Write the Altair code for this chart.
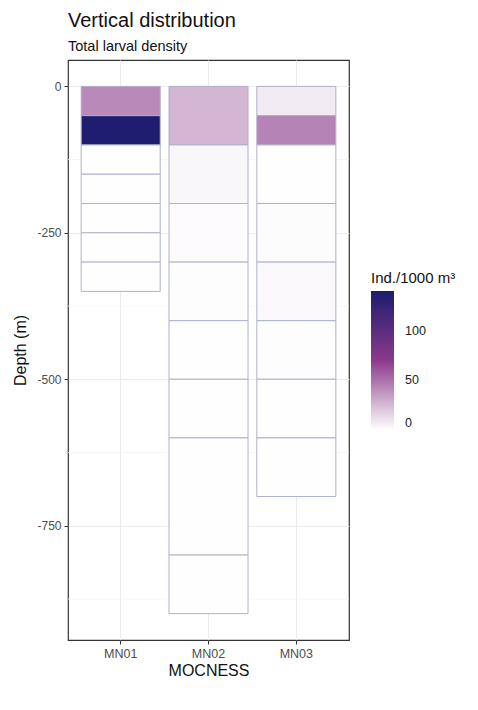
import altair as alt
import pandas as pd

# ---- data ----
net = ["MN01"] * 7 + ["MN02"] * 8 + ["MN03"] * 8
depth_top = [0, 50, 100, 150, 200, 250, 300,
             0, 100, 200, 300, 400, 500, 600, 800,
             0, 50, 100, 200, 300, 400, 500, 600]
depth_bottom = [50, 100, 150, 200, 250, 300, 350,
                100, 200, 300, 400, 500, 600, 800, 900,
                50, 100, 200, 300, 400, 500, 600, 700]
density = [42, 138, 0.4, 0.3, 0.3, 0.3, 0.3,
           26, 3, 1.5, 0.8, 0.4, 0.4, 0.3, 0.2,
           7, 44, 0.4, 1.2, 2.5, 0.8, 0.4, 0.3]
minor_grid = [-125, -375, -625, -875]
legend_ticks = [0, 50, 100]
y_ticks = [0, -250, -500, -750]

df = pd.DataFrame({
    "net": net,
    "top": [-d for d in depth_top],
    "bottom": [-d for d in depth_bottom],
    "density": density,
})
grid_df = pd.DataFrame({"top": minor_grid})

FONT = "Liberation Sans"

yscale = alt.Scale(domain=[-945, 45], nice=False, zero=False)
y_axis = alt.Axis(
    values=y_ticks, grid=True, gridColor="#ebebeb",
    gridWidth=1, domain=False, tickColor="#333333", tickSize=4,
    labelFontSize=12, labelColor="#4d4d4d", labelPadding=3,
    labelExpr="datum.value + ''",
    titleFontSize=16, titleFontWeight="normal", titleColor="#111111",
    titlePadding=8, labelFont=FONT, titleFont=FONT, zindex=0,
)

minor = alt.Chart(grid_df).mark_rule(color="#f3f3f3", strokeWidth=0.8).encode(
    y=alt.Y("top:Q", title="Depth (m)", scale=yscale, axis=y_axis)
)

tiles = alt.Chart(df).mark_rect(stroke="#aeb2c8", strokeWidth=1, opacity=1).encode(
    x=alt.X(
        "net:N",
        title="MOCNESS",
        scale=alt.Scale(paddingInner=0.1, paddingOuter=0.15),
        axis=alt.Axis(
            bandPosition=0.5, labelAngle=0, grid=True, gridColor="#ebebeb",
            gridWidth=1, domain=False, tickColor="#333333", tickSize=4,
            labelFontSize=12.5, labelColor="#4d4d4d", labelPadding=3,
            titleFontSize=16, titleFontWeight="normal", titleColor="#111111",
            titlePadding=3, labelFont=FONT, titleFont=FONT, zindex=0,
        ),
    ),
    y=alt.Y("top:Q", title="Depth (m)", scale=yscale, axis=y_axis),
    y2="bottom:Q",
    color=alt.Color(
        "density:Q",
        title="Ind./1000 m³",
        scale=alt.Scale(domain=[0, 70, 140],
                        range=["#ffffff", "#8b3a8b", "#1c1c6e"],
                        interpolate="rgb"),
        legend=alt.Legend(
            orient="none", legendX=303, legendY=211, values=legend_ticks,
            gradientLength=139, gradientThickness=23, gradientStrokeWidth=0,
            titleFontSize=15, titleFontWeight="normal", titleColor="#111111",
            titleFont=FONT, labelFont=FONT, labelFontSize=12.5,
            labelColor="#222222", titlePadding=5, labelOffset=11,
            direction="vertical",
        ),
    ),
)

chart = alt.layer(minor, tiles).properties(
    width=281,
    height=580,
    background="white",
    autosize=alt.AutoSizeParams(type="none"),
    padding={"left": 68, "top": 60, "right": 129, "bottom": 70},
    title=alt.TitleParams(
        "Vertical distribution",
        subtitle="Total larval density",
        anchor="start", frame="group", font=FONT, fontSize=20,
        fontWeight="normal", color="#111111",
        subtitleFont=FONT, subtitleFontSize=14.5, subtitleColor="#111111",
        subtitlePadding=9, offset=7,
    ),
).configure_view(stroke="#333333", strokeWidth=1.2)

chart.save("out.html", embed_options={"renderer": "svg", "actions": False})
